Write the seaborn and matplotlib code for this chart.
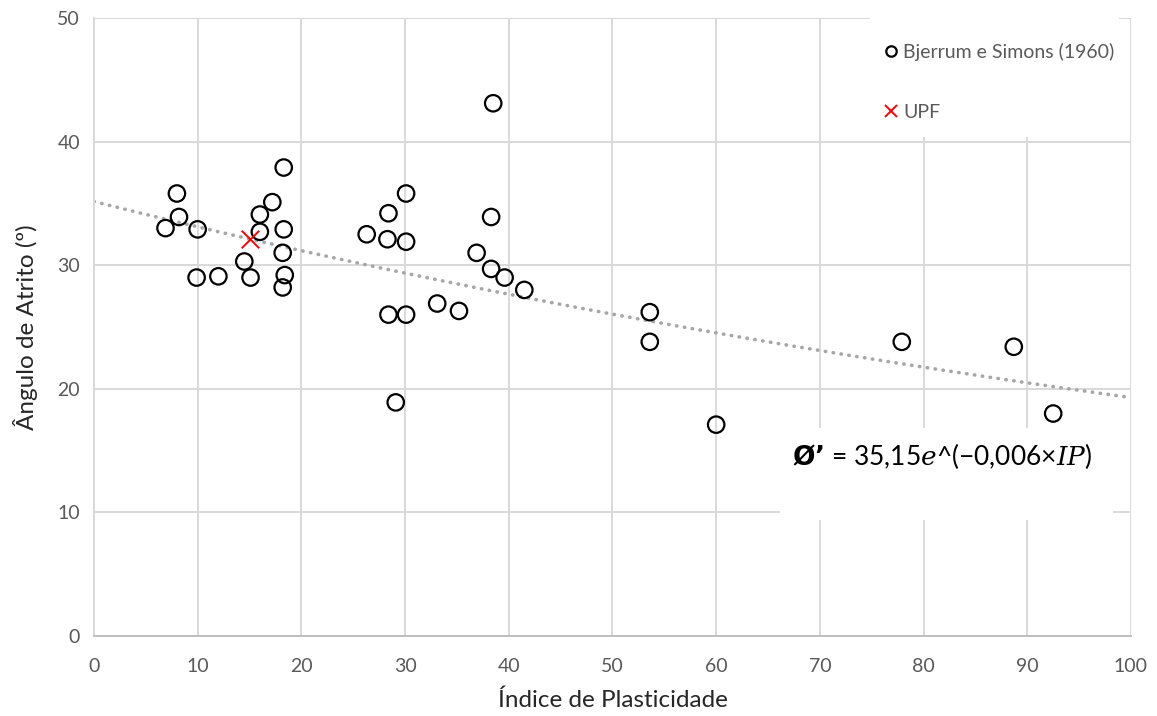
import numpy as np
import pandas as pd
import matplotlib
matplotlib.use("Agg")
import matplotlib.pyplot as plt
import seaborn as sns
from matplotlib.patches import Rectangle
from matplotlib.lines import Line2D

# ---- data ----
bjerrum_ip = [6.9, 8.0, 8.2, 10.0, 9.9, 12.0, 14.5, 15.1, 16.0, 16.0, 17.2, 18.3,
              18.3, 18.2, 18.4, 18.2, 26.3, 28.4, 28.3, 28.4, 29.1, 30.1, 30.1, 30.1,
              33.1, 35.2, 36.9, 38.5, 38.3, 38.3, 39.6, 41.5, 53.6, 53.6, 60.0, 77.9,
              88.7, 92.5]
bjerrum_phi = [33.0, 35.8, 33.9, 32.9, 29.0, 29.1, 30.3, 29.0, 34.1, 32.7, 35.1, 37.9,
               32.9, 31.0, 29.2, 28.2, 32.5, 34.2, 32.1, 26.0, 18.9, 35.8, 31.9, 26.0,
               26.9, 26.3, 31.0, 43.1, 33.9, 29.7, 29.0, 28.0, 26.2, 23.8, 17.1, 23.8,
               23.4, 18.0]
upf_ip = [15.0]
upf_phi = [32.1]
trend_a = 35.15
trend_b = -0.006
x_ticks = [0, 10, 20, 30, 40, 50, 60, 70, 80, 90, 100]
y_ticks = [0, 10, 20, 30, 40, 50]
label_bjerrum = "Bjerrum e Simons (1960)"
label_upf = "UPF"

sns.set_theme(style="white")
plt.rcParams['font.family'] = ['Lato', 'DejaVu Sans']
plt.rcParams['mathtext.fontset'] = 'custom'
plt.rcParams['mathtext.rm'] = 'Lato'
plt.rcParams['mathtext.it'] = 'DejaVu Serif:italic'
plt.rcParams['mathtext.bf'] = 'DejaVu Sans:bold'

fig = plt.figure(figsize=(11.57, 7.16), dpi=100)
ax = fig.add_axes([0.0812, 0.1117, 0.8963, 0.8632])

grid_c = '#D9D9D9'
for xv in x_ticks[1:]:
    ax.axvline(xv, color=grid_c, lw=1.4, zorder=0)
for yv in y_ticks[1:]:
    ax.axhline(yv, color=grid_c, lw=1.4, zorder=0)

# trendline
xt = np.linspace(0, 100, 300)
ax.plot(xt, trend_a * np.exp(trend_b * xt), color='#A6A6A6', lw=2.6,
        linestyle=(0, (0.1, 2.1)), dash_capstyle='round', zorder=2)

df_b = pd.DataFrame({'IP': bjerrum_ip, 'phi': bjerrum_phi})
df_u = pd.DataFrame({'IP': upf_ip, 'phi': upf_phi})
sns.scatterplot(data=df_b, x='IP', y='phi', ax=ax, marker='o', s=140,
                facecolor='none', edgecolor='black', linewidth=1.6, zorder=3)
sns.scatterplot(data=df_u, x='IP', y='phi', ax=ax, marker='x', s=160,
                color='#FF0000', linewidth=1.4, zorder=4)

ax.set_xlim(0, 100)
ax.set_ylim(0, 50)
ax.set_xticks(x_ticks)
ax.set_yticks(y_ticks)
ax.tick_params(axis='x', length=0, labelsize=14, labelcolor='#595959', pad=16)
ax.tick_params(axis='y', length=0, labelsize=14, labelcolor='#595959', pad=10)
for s in ['top', 'right']:
    ax.spines[s].set_visible(False)
ax.spines['left'].set_color(grid_c)
ax.spines['left'].set_linewidth(1.4)
ax.spines['bottom'].set_color('#BFBFBF')
ax.spines['bottom'].set_linewidth(1.4)
ax.set_xlabel("Índice de Plasticidade", fontsize=17.5, color='#262626', labelpad=10)
ax.set_ylabel("Ângulo de Atrito (º)", fontsize=17.5, color='#262626', labelpad=14)

# legend background
ax.add_patch(Rectangle((0.748, 0.808), 0.24, 0.2, transform=ax.transAxes,
                       facecolor='white', edgecolor='none', zorder=1))
handles = [Line2D([], [], marker='o', linestyle='none', markerfacecolor='none',
                  markeredgecolor='black', markersize=7.5, markeredgewidth=1.6),
           Line2D([], [], marker='x', linestyle='none', color='#FF0000',
                  markersize=8, markeredgewidth=1.4)]
leg = ax.legend(handles, [label_bjerrum, label_upf], loc='upper left',
                bbox_to_anchor=(0.752, 0.972), frameon=False, fontsize=14,
                labelspacing=2.2, handletextpad=0.1, handlelength=1.0,
                borderaxespad=0)
for t in leg.get_texts():
    t.set_color('#595959')

# equation box
ax.add_patch(Rectangle((0.662, 0.188), 0.321, 0.149, transform=ax.transAxes,
                       facecolor='white', edgecolor='none', zorder=5))
ax.text(0.818, 0.292, r"$\mathbf{Ø’}$ = 35,15$\mathit{e}$^(−0,006×$\mathit{IP}$)",
        transform=ax.transAxes, ha='center', va='center', fontsize=19,
        color='black', zorder=6)

fig.savefig('out.png', dpi=100)
